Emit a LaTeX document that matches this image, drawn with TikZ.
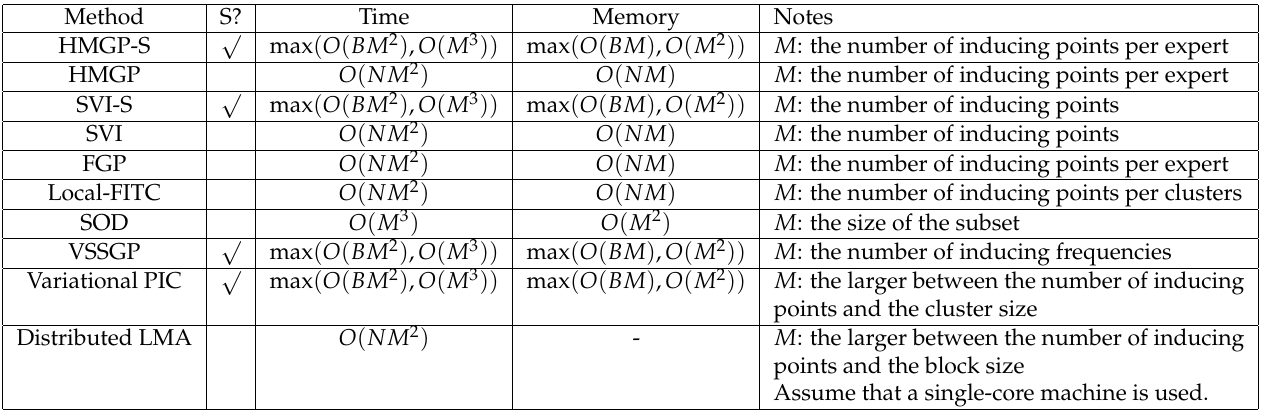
\documentclass[tikz,border=0pt]{standalone}
\usepackage[T1]{fontenc}
\usepackage{mathpazo}
\begin{document}
\begin{tikzpicture}
\node[inner sep=0pt] (tab) {\begin{tabular}{|c|c|c|c|l|}
\hline
Method & S? & Time & Memory & Notes\\ \hline
HMGP-S & $\surd$ & $\max(O(BM^2),O(M^3))$ & $\max(O(BM),O(M^2))$ & $M$: the number of inducing points per expert\\ \hline
HMGP & & $O(NM^2)$ & $O(NM)$ & $M$: the number of inducing points per expert\\ \hline
SVI-S & $\surd$ & $\max(O(BM^2),O(M^3))$ & $\max(O(BM),O(M^2))$ & $M$: the number of inducing points\\ \hline
SVI & & $O(NM^2)$ & $O(NM)$ & $M$: the number of inducing points\\ \hline
FGP & & $O(NM^2)$ & $O(NM)$ & $M$: the number of inducing points per expert\\ \hline
Local-FITC & & $O(NM^2)$ & $O(NM)$ & $M$: the number of inducing points per clusters\\ \hline
SOD & & $O(M^3)$ & $O(M^2)$ & $M$: the size of the subset\\ \hline
VSSGP & $\surd$ & $\max(O(BM^2),O(M^3))$ & $\max(O(BM),O(M^2))$ & $M$: the number of inducing frequencies\\ \hline
Variational PIC & $\surd$ & $\max(O(BM^2),O(M^3))$ & $\max(O(BM),O(M^2))$ & $M$: the larger between the number of inducing\\
 & & & & points and the cluster size\\ \hline
Distributed LMA & & $O(NM^2)$ & - & $M$: the larger between the number of inducing\\
 & & & & points and the block size\\
 & & & & Assume that a single-core machine is used.\\ \hline
\end{tabular}};
\path[use as bounding box] ([shift={(-1pt,1.5pt)}]tab.north west) rectangle ([shift={(1pt,-1pt)}]tab.south east);
\end{tikzpicture}
\end{document}
